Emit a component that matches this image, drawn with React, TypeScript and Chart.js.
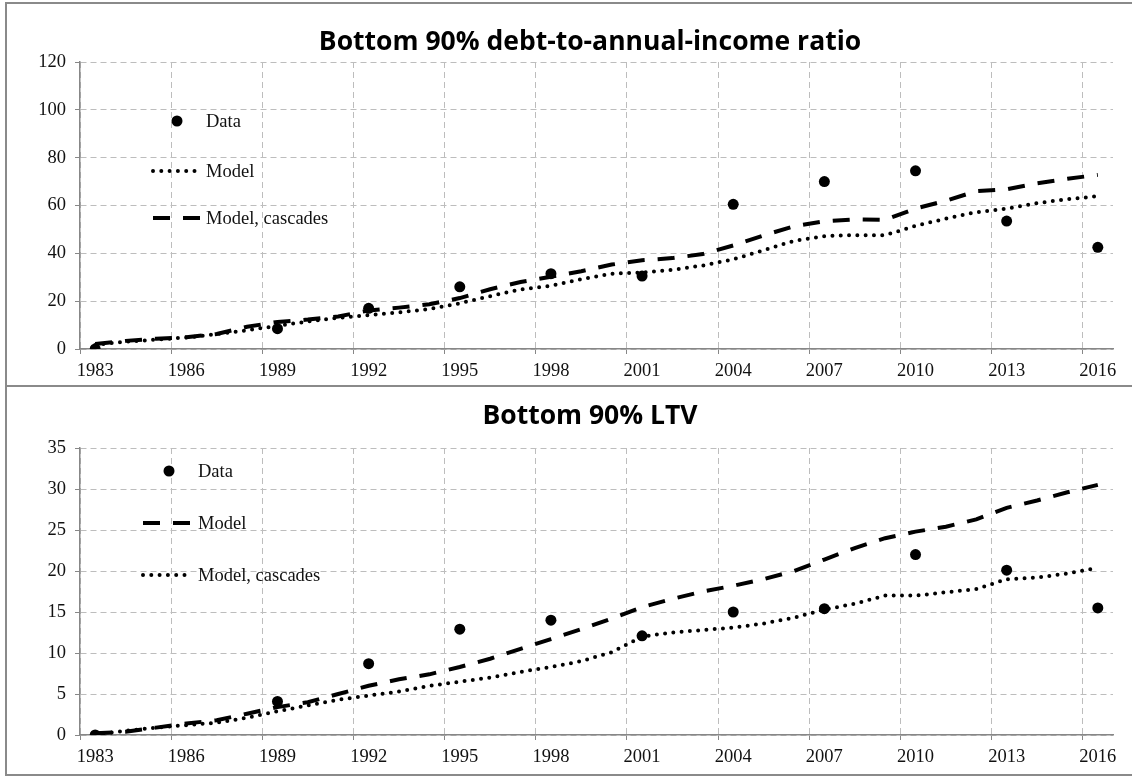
import React, { useEffect, useRef } from 'react';
import { Chart, registerables } from 'chart.js';

Chart.register(...registerables);

// ---------- DATA ----------
const YEARS = [
  '1983', '1984', '1985', '1986', '1987', '1988', '1989', '1990', '1991', '1992',
  '1993', '1994', '1995', '1996', '1997', '1998', '1999', '2000', '2001', '2002',
  '2003', '2004', '2005', '2006', '2007', '2008', '2009', '2010', '2011', '2012',
  '2013', '2014', '2015', '2016',
];

const SURVEY_YEARS = ['1983', '1989', '1992', '1995', '1998', '2001', '2004', '2007', '2010', '2013', '2016'];

// Top panel: debt-to-annual-income ratio
const DEBT_DATA = [0, 8.5, 17, 26, 31.5, 30.5, 60.5, 70, 74.5, 53.5, 42.5];
const DEBT_MODEL = [
  1.7, 3.1, 3.9, 4.8, 6.2, 7.8, 9.7, 11.5, 13.0, 14.2,
  15.3, 16.7, 19.1, 22.1, 24.9, 26.4, 29.2, 31.5, 32.0, 33.1,
  34.9, 37.5, 41.3, 45.2, 47.2, 47.6, 47.6, 51.5, 54.5, 57.2,
  58.7, 61.0, 62.6, 63.9,
];
const DEBT_MODEL_CASCADES = [
  2.1, 3.4, 4.3, 4.9, 6.3, 9.3, 11.3, 12.3, 13.6, 16.1,
  17.3, 18.7, 21.3, 25.0, 28.0, 30.2, 32.5, 35.3, 37.1, 38.0,
  39.7, 43.3, 47.5, 51.3, 53.4, 54.2, 54.0, 58.7, 62.0, 66.0,
  66.8, 69.3, 71.2, 72.8,
];

// Bottom panel: LTV
const LTV_DATA = [0, 4.1, 8.7, 12.9, 14.0, 12.1, 15.0, 15.4, 22.0, 20.1, 15.5];
const LTV_MODEL = [
  0.2, 0.4, 0.9, 1.4, 1.8, 2.6, 3.4, 4.0, 5.0, 6.0,
  6.8, 7.4, 8.3, 9.3, 10.5, 11.7, 12.9, 14.2, 15.6, 16.6,
  17.5, 18.2, 19.0, 20.0, 21.4, 22.8, 24.0, 24.8, 25.4, 26.3,
  27.7, 28.6, 29.6, 30.5,
];
const LTV_MODEL_CASCADES = [
  0.1, 0.5, 0.9, 1.2, 1.5, 2.1, 2.9, 3.6, 4.3, 4.8,
  5.3, 6.0, 6.5, 7.0, 7.7, 8.3, 9.0, 10.1, 12.0, 12.5,
  12.8, 13.1, 13.6, 14.3, 15.3, 16.0, 17.0, 17.0, 17.4, 17.8,
  19.0, 19.2, 19.7, 20.4,
];

const TOP_TITLE = 'Bottom 90% debt-to-annual-income ratio';
const BOTTOM_TITLE = 'Bottom 90% LTV';

// ---------- STYLES ----------
const SERIF = '"Liberation Serif", "Times New Roman", serif';
const AXIS_COLOR = '#878787';
const GRID_COLOR = '#bdbdbd';
const TEXT_COLOR = '#111111';
const DOTTED = { borderDash: [0, 8.3], borderWidth: 4, borderCapStyle: 'round' as const };
const DASHED = { borderDash: [17, 13], borderWidth: 4, borderCapStyle: 'butt' as const };

const CANVAS_W = 1166;
const RIGHT_SPACE = 60;

const insideLegend = {
  id: 'insideLegend',
  afterDatasetsDraw(chart: any, _args: any, opts: any) {
    const { ctx, chartArea } = chart;
    const { left, top } = chartArea;
    ctx.save();
    for (const it of opts.items || []) {
      const ds = chart.data.datasets[it.datasetIndex];
      const y = top + it.dy;
      ctx.fillStyle = '#000';
      ctx.strokeStyle = '#000';
      if (it.kind === 'point') {
        ctx.beginPath();
        ctx.arc(left + it.markX, y, ds.pointRadius, 0, Math.PI * 2);
        ctx.fill();
      } else {
        ctx.beginPath();
        ctx.setLineDash(ds.borderDash || []);
        ctx.lineCap = ds.borderCapStyle || 'butt';
        ctx.lineWidth = ds.borderWidth;
        ctx.moveTo(left + it.x1, y);
        ctx.lineTo(left + it.x2, y);
        ctx.stroke();
        ctx.setLineDash([]);
      }
      ctx.fillStyle = TEXT_COLOR;
      ctx.font = `18.5px ${SERIF}`;
      ctx.textAlign = 'left';
      ctx.textBaseline = 'middle';
      ctx.fillText(ds.label, left + it.textX, y + 1);
    }
    ctx.restore();
  },
};

function makeConfig(p: {
  title: string;
  titlePad: { top: number; bottom: number };
  yMax: number;
  yStep: number;
  xAxisH: number;
  datasets: any[];
  legendItems: any[];
}): any {
  const tickFont = { family: SERIF, size: 18.5 };
  return {
    type: 'line',
    data: { labels: YEARS, datasets: p.datasets },
    plugins: [insideLegend],
    options: {
      responsive: false,
      animation: false,
      devicePixelRatio: 1,
      layout: { padding: 0 },
      plugins: {
        legend: { display: false },
        tooltip: { enabled: false },
        title: {
          display: true,
          text: p.title,
          color: '#000',
          font: { family: '"Open Sans"', weight: 'bold', size: 26.5 },
          padding: p.titlePad,
        },
        insideLegend: { items: p.legendItems },
      },
      scales: {
        x: {
          type: 'category',
          offset: true,
          grid: {
            offset: true,
            lineWidth: 1,
            color: (c: any) => (c.index % 3 === 0 ? GRID_COLOR : 'transparent'),
            tickColor: (c: any) => (c.index % 3 === 0 ? AXIS_COLOR : 'transparent'),
            tickLength: 5,
          },
          border: { color: AXIS_COLOR, width: 1.5, dash: [6, 4] },
          ticks: {
            autoSkip: false,
            maxRotation: 0,
            minRotation: 0,
            padding: 6,
            color: TEXT_COLOR,
            font: tickFont,
            callback: (_v: any, i: number) => (i % 3 === 0 ? YEARS[i] : ''),
          },
          afterFit: (s: any) => {
            s.height = p.xAxisH;
          },
        },
        y: {
          min: 0,
          max: p.yMax,
          grid: { color: GRID_COLOR, tickColor: AXIS_COLOR, tickLength: 5, lineWidth: 1 },
          border: { color: AXIS_COLOR, width: 1.5, dash: [6, 4] },
          ticks: { stepSize: p.yStep, padding: 9, color: TEXT_COLOR, font: tickFont },
          afterFit: (s: any) => {
            s.width = 73;
          },
        },
        // empty spacer on the right so the title centres like the original
        spacer: {
          type: 'linear',
          position: 'right',
          display: true,
          grid: { display: false, drawTicks: false },
          border: { display: false },
          ticks: { display: false },
          afterFit: (s: any) => {
            s.width = RIGHT_SPACE;
          },
        },
      },
    },
  };
}

const pointSeries = (label: string, values: number[]) => ({
  label,
  data: SURVEY_YEARS.map((yr, i) => ({ x: yr, y: values[i] })),
  showLine: false,
  pointRadius: 5.5,
  pointHoverRadius: 5.5,
  pointBorderWidth: 0,
  pointBackgroundColor: '#000',
  borderColor: '#000',
  backgroundColor: '#000',
  yAxisID: 'y',
});

const lineSeries = (label: string, values: number[], style: any) => ({
  label,
  data: values,
  borderColor: '#000',
  backgroundColor: '#000',
  pointRadius: 0,
  tension: 0,
  fill: false,
  yAxisID: 'y',
  ...style,
});

function ChartCanvas({ config, height }: { config: any; height: number }) {
  const ref = useRef<HTMLCanvasElement>(null);
  useEffect(() => {
    const chart = new Chart(ref.current as HTMLCanvasElement, config);
    return () => chart.destroy();
  }, []);
  return (
    <canvas
      ref={ref}
      width={CANVAS_W}
      height={height}
      style={{ display: 'block', width: CANVAS_W, height }}
    />
  );
}

export default function App() {
  const topConfig = makeConfig({
    title: TOP_TITLE,
    titlePad: { top: 22.1, bottom: 4.1 },
    yMax: 120,
    yStep: 20,
    xAxisH: 36,
    datasets: [
      pointSeries('Data', DEBT_DATA),
      lineSeries('Model', DEBT_MODEL, DOTTED),
      lineSeries('Model, cascades', DEBT_MODEL_CASCADES, DASHED),
    ],
    legendItems: [
      { datasetIndex: 0, kind: 'point', dy: 59, markX: 97, textX: 126 },
      { datasetIndex: 1, kind: 'line', dy: 109, x1: 73, x2: 121, textX: 126 },
      { datasetIndex: 2, kind: 'line', dy: 156, x1: 73, x2: 121, textX: 126 },
    ],
  });

  const bottomConfig = makeConfig({
    title: BOTTOM_TITLE,
    titlePad: { top: 13.1, bottom: 16.1 },
    yMax: 35,
    yStep: 5,
    xAxisH: 39,
    datasets: [
      pointSeries('Data', LTV_DATA),
      lineSeries('Model', LTV_MODEL, DASHED),
      lineSeries('Model, cascades', LTV_MODEL_CASCADES, DOTTED),
    ],
    legendItems: [
      { datasetIndex: 0, kind: 'point', dy: 23, markX: 89, textX: 118 },
      { datasetIndex: 1, kind: 'line', dy: 75, x1: 63, x2: 112, textX: 118 },
      { datasetIndex: 2, kind: 'line', dy: 127, x1: 63, x2: 112, textX: 118 },
    ],
  });

  return (
    <div style={{ position: 'fixed', left: 0, top: 0, width: 1132, height: 778, overflow: 'hidden', background: '#fff' }}>
      <div
        style={{
          position: 'absolute',
          left: 5,
          top: 2,
          width: CANVAS_W + 4,
          height: 774,
          border: '2px solid #8a8a8a',
          boxSizing: 'border-box',
        }}
      >
        <ChartCanvas config={topConfig} height={381} />
        <div style={{ height: 2, background: '#8a8a8a' }} />
        <ChartCanvas config={bottomConfig} height={387} />
      </div>
    </div>
  );
}
